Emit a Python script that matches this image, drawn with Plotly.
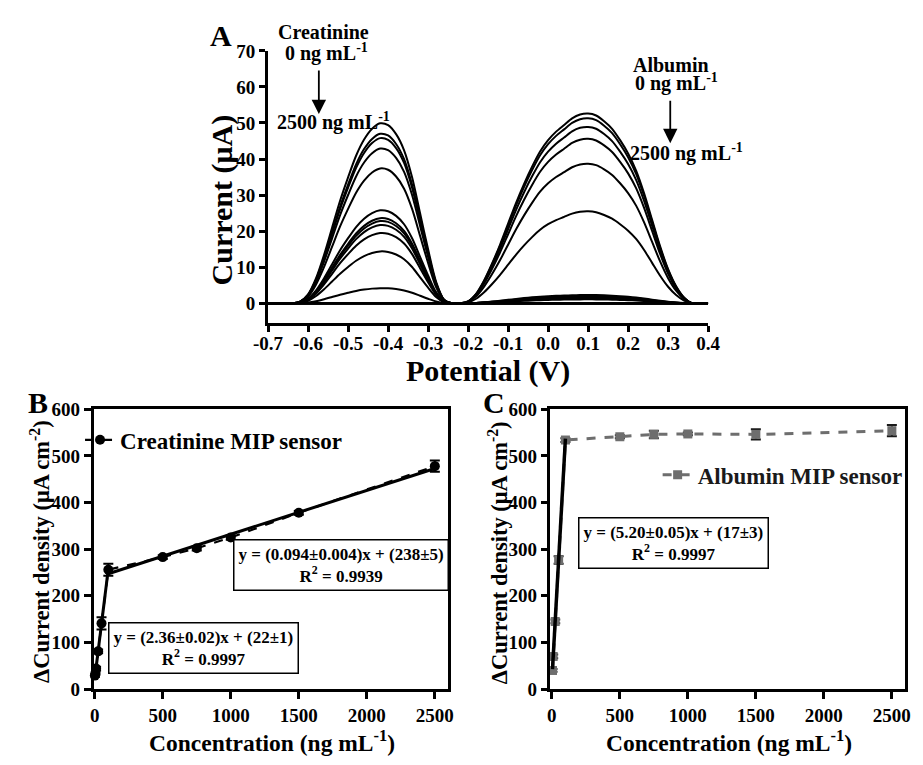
import numpy as np
import plotly.graph_objects as go

W, H = 923, 765
FONT = "Liberation Serif, Times New Roman, serif"

# ---------------- Panel A: DPV scans ----------------
potential_V = np.round(np.arange(-0.70, 0.401, 0.02), 2)

# normalised peak profiles sampled on the potential grid
creatinine_shape = [0, 0, 0, 0, 0.01, 0.05, 0.14, 0.27, 0.42, 0.57, 0.70, 0.82,
                    0.91, 0.97, 1.00, 0.99, 0.94, 0.85, 0.70, 0.50, 0.30, 0.12,
                    0.02, 0] + [0] * 32
albumin_shape = [0] * 25 + [0.01, 0.05, 0.12, 0.21, 0.31, 0.42, 0.53, 0.63, 0.72,
                            0.80, 0.86, 0.905, 0.94, 0.975, 0.995, 1.00, 0.99, 0.96,
                            0.92, 0.86, 0.79, 0.70, 0.58, 0.44, 0.30, 0.18, 0.09,
                            0.03, 0, 0, 0]

creatinine_peak_uA = [4.2, 14.4, 19.5, 21.7, 22.8, 23.6, 25.8, 37.4, 42.9, 45.8, 47.0, 49.9]
albumin_peak_uA = [1.1, 1.4, 1.7, 2.0, 2.3, 25.5, 38.7, 45.6, 48.9, 51.3, 52.6]

# ---------------- Panel B: creatinine calibration ----------------
creat_conc = [1, 5, 10, 25, 50, 100, 500, 750, 1000, 1500, 2500]
creat_resp = [29, 34, 44, 81, 141, 256, 283, 302, 325, 378, 478]
creat_err = [3, 3, 4, 4, 13, 13, 4, 5, 5, 4, 12]
creat_fit_low = {"slope": 2.36, "intercept": 22, "x": [1, 100]}
creat_fit_high = {"slope": 0.094, "intercept": 238, "x": [100, 2500]}

# ---------------- Panel C: albumin calibration ----------------
alb_conc = [5, 10, 25, 50, 100, 500, 750, 1000, 1500, 2500]
alb_resp = [40, 70, 145, 277, 534, 541, 546, 547, 546, 554]
alb_err = [3, 4, 4, 8, 4, 3, 8, 3, 11, 12]
alb_fit = {"slope": 5.20, "intercept": 17, "x": [5, 100]}

x_ticks_A = [-0.7, -0.6, -0.5, -0.4, -0.3, -0.2, -0.1, 0.0, 0.1, 0.2, 0.3, 0.4]
y_ticks_A = [0, 10, 20, 30, 40, 50, 60, 70]
conc_ticks = [0, 500, 1000, 1500, 2000, 2500]
dens_ticks = [0, 100, 200, 300, 400, 500, 600]


def px(x):
    return x / W


def py(y):
    return 1 - y / H


def bold(labels):
    return [f"<b>{t}</b>" for t in labels]


fig = go.Figure()

shape_c = np.array(creatinine_shape)
shape_a = np.array(albumin_shape)
for h in creatinine_peak_uA:
    fig.add_trace(go.Scatter(x=potential_V, y=h * shape_c, mode="lines",
                             line=dict(color="black", width=2, shape="spline", smoothing=0.8),
                             showlegend=False, xaxis="x", yaxis="y"))
for h in albumin_peak_uA:
    fig.add_trace(go.Scatter(x=potential_V, y=h * shape_a, mode="lines",
                             line=dict(color="black", width=2, shape="spline", smoothing=0.8),
                             showlegend=False, xaxis="x", yaxis="y"))


def fit_line(fit):
    xs = np.array(fit["x"], dtype=float)
    return xs, fit["slope"] * xs + fit["intercept"]


# Panel B traces
fig.add_trace(go.Scatter(
    x=creat_conc, y=creat_resp, mode="lines+markers", name="<b>Creatinine MIP sensor</b>",
    line=dict(color="black", width=2.2, dash="dash"),
    marker=dict(symbol="circle", size=10, color="black"),
    error_y=dict(type="data", array=creat_err, color="black", thickness=2, width=5),
    xaxis="x2", yaxis="y2", cliponaxis=False, legend="legend"))
for fit in (creat_fit_low, creat_fit_high):
    fx, fy = fit_line(fit)
    fig.add_trace(go.Scatter(x=fx, y=fy, mode="lines", line=dict(color="black", width=3),
                             showlegend=False, xaxis="x2", yaxis="y2"))

# Panel C traces
fig.add_trace(go.Scatter(
    x=alb_conc, y=alb_resp, mode="lines+markers", name="<b>Albumin MIP sensor</b>",
    line=dict(color="#6e6e6e", width=3, dash="dash"),
    marker=dict(symbol="square", size=9, color="#6e6e6e"),
    error_y=dict(type="data", array=alb_err, color="#1a1a1a", thickness=2, width=5),
    xaxis="x3", yaxis="y3", cliponaxis=False, legend="legend2"))
fx, fy = fit_line(alb_fit)
fig.add_trace(go.Scatter(x=fx, y=fy, mode="lines", line=dict(color="black", width=3.5),
                         showlegend=False, xaxis="x3", yaxis="y3"))

tickfont = dict(family=FONT, size=19, color="black", weight=700)
common = dict(showline=True, linecolor="black", ticks="outside", tickcolor="black",
              showgrid=False, zeroline=False, tickfont=tickfont)

fig.update_layout(
    width=W, height=H, margin=dict(l=0, r=0, t=0, b=0),
    paper_bgcolor="white", plot_bgcolor="white",
    font=dict(family=FONT, color="black"),
    xaxis=dict(domain=[px(260.7), px(714)], range=[-0.7, 0.4], anchor="y",
               tickvals=x_ticks_A, ticktext=bold([f"{v:.1f}" for v in x_ticks_A]),
               ticklabelstandoff=-5,
               linewidth=3, ticklen=6, tickwidth=2.5, **common),
    yaxis=dict(domain=[py(322), py(42)], range=[-5.5, 70], anchor="x",
               tickvals=y_ticks_A, ticktext=bold(y_ticks_A),
               linewidth=3, ticklen=6, tickwidth=2.5, **common),
    xaxis2=dict(domain=[px(81), px(446.5)], range=[-8, 2600], anchor="y2",
                tickvals=conc_ticks, ticktext=bold(conc_ticks),
                linewidth=2.5, mirror=True, ticklen=7, tickwidth=2.5, **common),
    yaxis2=dict(domain=[py(698.3), py(410.5)], range=[0, 600], anchor="x2",
                tickvals=dens_ticks, ticktext=bold(dens_ticks),
                linewidth=2.5, mirror=True, ticklen=7, tickwidth=2.5, **common),
    xaxis3=dict(domain=[px(551.6), px(917.3)], range=[-10, 2600], anchor="y3",
                tickvals=conc_ticks, ticktext=bold(conc_ticks),
                linewidth=2.5, mirror=True, ticklen=7, tickwidth=2.5, **common),
    yaxis3=dict(domain=[py(698.3), py(410.5)], range=[0, 600], anchor="x3",
                tickvals=dens_ticks, ticktext=bold(dens_ticks),
                linewidth=2.5, mirror=True, ticklen=7, tickwidth=2.5, **common),
    legend=dict(x=px(67), y=py(442), xanchor="left", yanchor="middle",
                bgcolor="rgba(0,0,0,0)", itemwidth=30,
                font=dict(family=FONT, size=23, color="black")),
    legend2=dict(x=px(662), y=py(478), xanchor="left", yanchor="middle",
                 bgcolor="rgba(0,0,0,0)", itemwidth=30,
                 font=dict(family=FONT, size=23, color="#1a1a1a")),
)


def label(x, y, text, size, angle=0, **kw):
    fig.add_annotation(x=px(x), y=py(y), xref="paper", yref="paper", text=text,
                       showarrow=False, textangle=angle, xanchor="center", yanchor="middle",
                       font=dict(family=FONT, size=size, color="black"), **kw)


# panel letters
label(212, 26, "<b>A</b>", 30)
label(24, 404, "<b>B</b>", 30)
label(493, 404, "<b>C</b>", 30)

# axis titles
label(213, 195, "<b>Current (μA)</b>", 30, angle=-90)
label(487, 371, "<b>Potential (V)</b>", 30)
label(25, 557, "<b>ΔCurrent density (μA cm<sup>-2</sup>)</b>", 22.5, angle=-90)
label(497, 558, "<b>ΔCurrent density (μA cm<sup>-2</sup>)</b>", 22.5, angle=-90)
label(265, 752, "<b>Concentration (ng mL<sup>-1</sup>)</b>", 23.5)
label(736, 752, "<b>Concentration (ng mL<sup>-1</sup>)</b>", 23.5)

# concentration direction notes in panel A
label(318, 23, "<b>Creatinine</b>", 20)
label(321, 44, "<b>0 ng mL<sup>-1</sup></b>", 20)
label(328, 115, "<b>2500 ng mL<sup>-1</sup></b>", 20)
label(676, 57, "<b>Albumin</b>", 20)
label(681, 75, "<b>0 ng mL<sup>-1</sup></b>", 20)
label(692, 147, "<b>2500 ng mL<sup>-1</sup></b>", 20)

for (x0, y0, y1) in [(313, 62, 107), (675, 93, 137)]:
    fig.add_annotation(x=px(x0), y=py(y1), xref="paper", yref="paper", text="",
                       showarrow=True, ax=0, ay=-(y1 - y0), arrowhead=2, arrowsize=1.6,
                       arrowwidth=1.8, arrowcolor="black")

# fitted equations
box = dict(bordercolor="black", borderwidth=1.5, bgcolor="white", borderpad=4, align="center")
label(335.5, 571, "<b>y = (0.094±0.004)x + (238±5)<br>R<sup>2</sup> = 0.9939</b>", 17, **box)
label(194, 656, "<b>y = (2.36±0.02)x + (22±1)<br>R<sup>2</sup> = 0.9997</b>", 17, **box)
label(678, 548.5, "<b>y = (5.20±0.05)x + (17±3)<br>R<sup>2</sup> = 0.9997</b>", 17, **box)

fig.write_html("out.html")
